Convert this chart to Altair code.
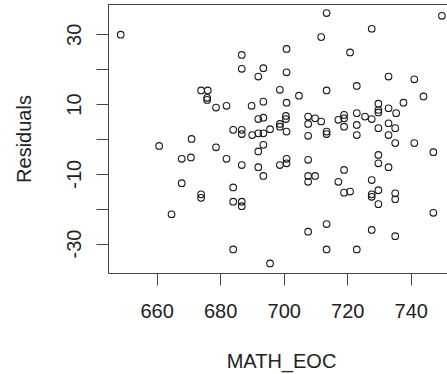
import altair as alt
import pandas as pd

math_eoc = [
    648.7, 674.0, 676.1, 675.9, 675.9, 678.7, 671.0,
    713.5, 711.8, 686.8, 700.9, 686.8, 693.6, 692.0, 700.9, 682.0, 689.9, 693.6,
    698.8, 704.8, 700.9, 713.5, 692.0, 693.6, 700.7, 700.7, 707.7, 709.9, 707.7,
    711.8, 698.8, 698.8, 684.1, 686.8, 686.8, 690.1, 692.0, 693.6, 695.7, 700.9,
    707.7, 713.5, 713.5,
    749.8, 727.7, 720.9, 733.0, 741.1, 723.0, 744.0, 729.8, 729.8, 733.0, 737.7,
    735.4, 723.0, 729.8, 719.0, 719.0, 719.0, 717.2, 725.6, 727.7, 723.0, 733.0,
    735.1, 729.8, 723.0, 733.0,
    660.8, 678.7, 667.9, 670.8, 667.9, 674.0, 674.0, 664.7,
    693.6, 692.0, 682.0, 686.8, 692.0, 693.6, 698.8, 700.9, 700.9, 707.7, 707.7,
    709.9, 707.7, 684.1, 684.1, 686.8, 686.8, 713.5, 707.7, 713.5, 684.1, 695.7,
    735.1, 741.1, 747.1, 729.8, 729.8, 733.0, 719.0, 717.2, 719.0, 720.9, 727.7,
    729.8, 727.7, 727.7, 729.8, 735.1, 735.1, 747.1, 727.7, 735.1, 723.0,
]
residuals = [
    29.9, 13.9, 13.9, 11.8, 11.2, 9.0, 0.0,
    36.1, 29.2, 24.1, 25.8, 20.1, 20.3, 17.9, 19.1, 9.5, 9.5, 10.7,
    14.1, 12.4, 10.4, 13.9, 5.7, 6.1, 6.6, 5.7, 6.4, 5.9, 4.3,
    5.0, 4.3, 3.5, 2.6, 2.6, 1.4, 1.1, 1.6, 1.6, 2.8, 2.1,
    0.9, 2.1, 1.4,
    35.3, 31.6, 24.8, 17.9, 17.1, 15.2, 12.2, 10.1, 8.3, 8.8, 10.4,
    7.4, 7.4, 7.6, 6.9, 5.9, 3.5, 5.5, 6.4, 5.7, 4.0, 4.5,
    3.1, 3.1, 1.1, 1.1,
    -2.0, -2.4, -5.7, -5.3, -12.7, -15.9, -16.9, -21.6,
    -1.7, -3.6, -5.7, -7.5, -8.1, -10.6, -7.5, -5.7, -7.0, -6.0, -10.6,
    -10.6, -12.3, -13.9, -18.0, -18.0, -19.3, -24.4, -26.6, -31.7, -31.7, -35.7,
    -1.2, -1.2, -3.8, -4.6, -7.0, -8.1, -8.9, -12.3, -15.4, -15.1, -11.8,
    -14.7, -15.9, -16.6, -18.7, -15.6, -17.3, -21.2, -26.1, -27.9, -31.7,
]
x_ticks = [660, 680, 700, 720, 740]
y_ticks = [-30, -20, -10, 0, 10, 20, 30]

df = pd.DataFrame({"MATH_EOC": math_eoc, "Residuals": residuals})

W, H = 339, 269
FONT = "Liberation Sans"
AX = "#444444"
TX = "#222222"

points = alt.Chart(df).mark_point(
    shape="circle", filled=False, size=44, strokeWidth=1.1, color="#1a1a1a", opacity=1
).encode(
    x=alt.X(
        "MATH_EOC:Q",
        scale=alt.Scale(domain=[644.7, 751.4], nice=False, zero=False),
        axis=alt.Axis(
            values=x_ticks, title="MATH_EOC", grid=False, tickSize=12,
            labelPadding=32, labelBaseline="alphabetic", labelFontSize=20,
            labelFont=FONT, labelColor=TX, labelFlush=False, labelOverlap=False,
            titleFont=FONT, titleFontSize=20, titleFontWeight="normal", titleColor=TX,
            titleX=173, titleY=94.6, titleBaseline="alphabetic", titleAlign="center",
            domainColor=AX, tickColor=AX, domainWidth=1, tickWidth=1,
        ),
    ),
    y=alt.Y(
        "Residuals:Q",
        scale=alt.Scale(domain=[-38.45, 38.7], nice=False, zero=False),
        axis=alt.Axis(
            values=y_ticks, title="Residuals", grid=False, tickSize=12,
            labelExpr="abs(datum.value) % 20 == 10 ? toString(datum.value) : ''",
            labelAngle=270, labelAlign="center", labelBaseline="alphabetic",
            labelPadding=16, labelFontSize=20, labelFont=FONT, labelColor=TX,
            labelFlush=False, labelOverlap=False,
            titleFont=FONT, titleFontSize=20, titleFontWeight="normal", titleColor=TX,
            titleAngle=270, titleX=-77.5, titleY=134.5, titleAlign="center",
            titleBaseline="alphabetic",
            domainColor=AX, tickColor=AX, domainWidth=1, tickWidth=1,
        ),
    ),
)

top_line = alt.Chart(pd.DataFrame({"k": [0]})).mark_rule(color=AX, strokeWidth=1).encode(
    x=alt.value(0), x2=alt.value(W + 20), y=alt.value(0.5)
)

chart = alt.layer(points, top_line).properties(
    width=W, height=H,
    autosize=alt.AutoSizeParams(type="none"),
    padding={"left": 108, "top": 4, "right": 0, "bottom": 101},
    background="white",
).configure_view(stroke=None)

chart.save("out.html", embed_options={"renderer": "svg", "actions": False})
